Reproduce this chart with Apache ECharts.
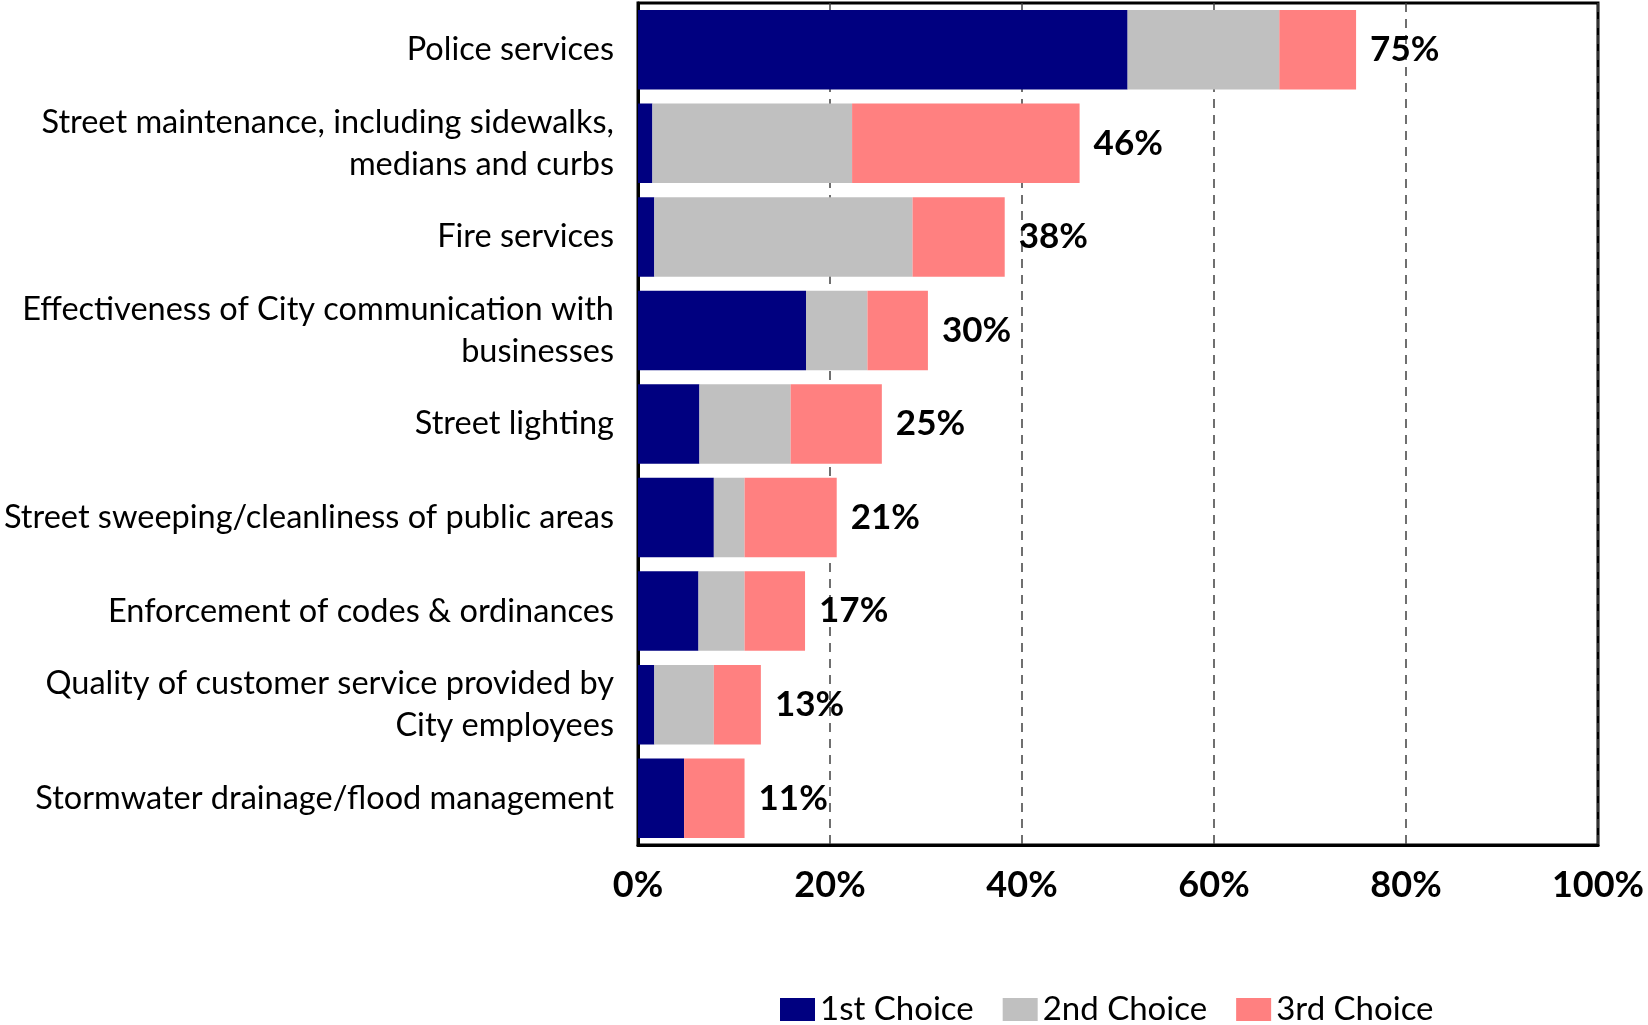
<!DOCTYPE html>
<html>
<head>
<meta charset="utf-8">
<title>Priority services</title>
<script src="https://cdn.jsdelivr.net/npm/echarts@6/dist/echarts.min.js"></script>
<style>
  html, body { margin: 0; padding: 0; background: #fff; }
  #chart { width: 1648px; height: 1025px; }
</style>
</head>
<body>
<div id="chart"></div>
<script>
// Service categories, listed top to bottom
const categories = [
  'Police services',
  'Street maintenance, including sidewalks,\nmedians and curbs',
  'Fire services',
  'Effectiveness of City communication with\nbusinesses',
  'Street lighting',
  'Street sweeping/cleanliness of public areas',
  'Enforcement of codes & ordinances',
  'Quality of customer service provided by\nCity employees',
  'Stormwater drainage/flood management'
];

// Share of respondents (%) choosing each service
const firstChoice  = [51.0, 1.5, 1.7, 17.5, 6.4, 7.9, 6.3, 1.7, 4.8];
const secondChoice = [15.8, 20.8, 26.9, 6.4, 9.5, 3.2, 4.8, 6.2, 0];
const thirdChoice  = [8.0, 23.7, 9.6, 6.3, 9.5, 9.6, 6.3, 4.9, 6.3];

const seriesNames = ['1st Choice', '2nd Choice', '3rd Choice'];
const xTicks = [0, 20, 40, 60, 80, 100];

const totals = categories.map((_, i) => firstChoice[i] + secondChoice[i] + thirdChoice[i]);

const FONT = 'Lato, "Open Sans", sans-serif';

const chart = echarts.init(document.getElementById('chart'));

function barSeries(name, data, color, withTotal) {
  const s = {
    name: name,
    type: 'bar',
    stack: 'total',
    data: data,
    barCategoryGap: '15%',
    itemStyle: { color: color },
    emphasis: { disabled: true }
  };
  if (withTotal) {
    s.label = {
      show: true,
      position: 'right',
      distance: 14,
      formatter: p => Math.round(totals[p.dataIndex]) + '%',
      fontFamily: FONT,
      fontWeight: 'bold',
      fontSize: 35,
      color: '#000'
    };
  }
  return s;
}

chart.setOption({
  animation: false,
  backgroundColor: '#fff',
  grid: {
    left: 638,
    right: 50,
    top: 3,
    bottom: 180,
    show: true,
    borderColor: '#000',
    borderWidth: 3,
    containLabel: false
  },
  legend: {
    data: seriesNames,
    left: 780,
    top: 993,
    padding: 0,
    itemWidth: 35,
    itemHeight: 23,
    itemGap: 29,
    icon: 'rect',
    textStyle: { fontFamily: FONT, fontSize: 33, color: '#000' }
  },
  xAxis: {
    type: 'value',
    min: 0,
    max: 100,
    interval: 20,
    axisLine: { show: true, lineStyle: { color: '#000', width: 3 } },
    axisTick: { show: false },
    axisLabel: {
      formatter: v => (xTicks.includes(v) ? v + '%' : ''),
      fontFamily: FONT,
      fontWeight: 'bold',
      fontSize: 36,
      color: '#000',
      margin: 22
    },
    splitLine: {
      show: true,
      lineStyle: { color: '#404040', type: [9, 7], width: 1.5 }
    }
  },
  yAxis: {
    type: 'category',
    data: categories,
    inverse: true,
    axisLine: { show: true, lineStyle: { color: '#000', width: 3 } },
    axisTick: { show: false },
    axisLabel: {
      fontFamily: FONT,
      fontSize: 32.5,
      lineHeight: 42,
      color: '#000',
      margin: 24,
      align: 'right'
    }
  },
  series: [
    barSeries(seriesNames[0], firstChoice, '#000080', false),
    barSeries(seriesNames[1], secondChoice, '#C0C0C0', false),
    barSeries(seriesNames[2], thirdChoice, '#FF8080', true)
  ]
});
</script>
</body>
</html>
